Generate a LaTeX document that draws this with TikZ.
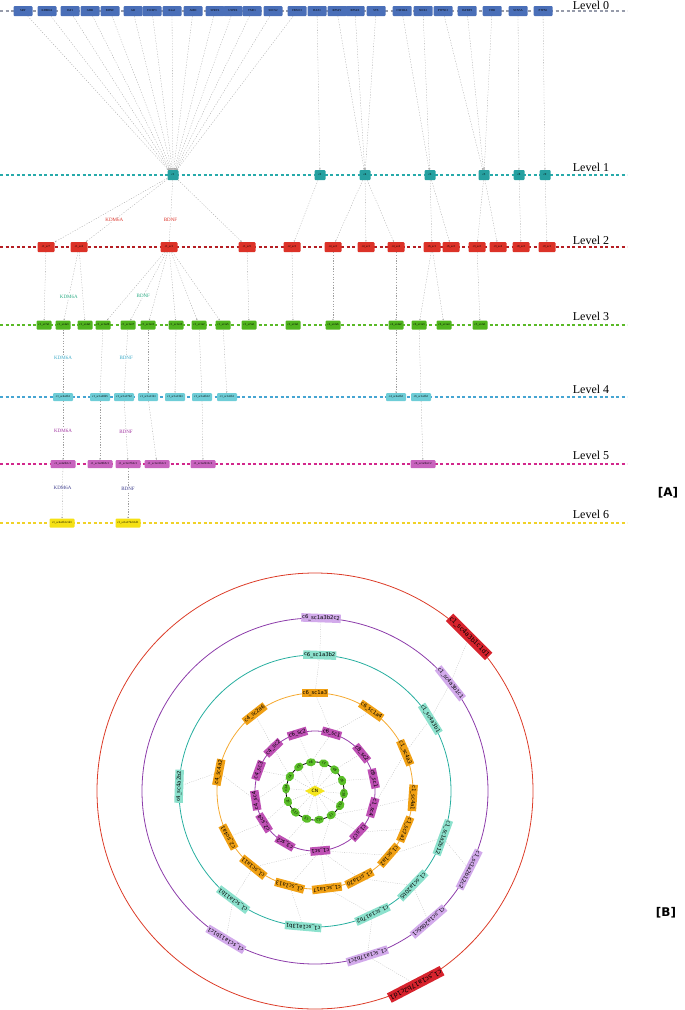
\documentclass[tikz,border=0pt]{standalone}
\usepackage{fontspec}
\setmainfont{Liberation Serif}
\newfontfamily\ringfont{DejaVu Sans}
\newfontfamily\tagfont{DejaVu Sans}
\usetikzlibrary{arrows.meta,shapes.geometric,backgrounds}

\definecolor{lv0}{RGB}{150,155,170}
\definecolor{lv1}{RGB}{40,170,170}
\definecolor{lv2}{RGB}{180,30,35}
\definecolor{lv3}{RGB}{90,185,40}
\definecolor{lv4}{RGB}{70,165,210}
\definecolor{lv5}{RGB}{210,40,140}
\definecolor{lv6}{RGB}{240,210,40}
\definecolor{genecol}{RGB}{74,111,184}
\definecolor{clucol}{RGB}{38,160,160}
\definecolor{subcol}{RGB}{220,50,40}
\definecolor{grncol}{RGB}{80,180,30}
\definecolor{cyacol}{RGB}{110,205,215}
\definecolor{pnkcol}{RGB}{200,100,190}
\definecolor{ylwcol}{RGB}{245,225,20}
\definecolor{tag2}{RGB}{220,50,40}
\definecolor{tag3}{RGB}{40,170,130}
\definecolor{tag4}{RGB}{60,170,200}
\definecolor{tag5}{RGB}{160,50,160}
\definecolor{tag6}{RGB}{60,60,140}
\definecolor{ringred}{RGB}{220,60,40}
\definecolor{ringpur}{RGB}{140,60,170}
\definecolor{ringtea}{RGB}{40,175,160}
\definecolor{ringora}{RGB}{245,170,50}
\definecolor{ringmag}{RGB}{150,60,170}
\definecolor{nodered}{RGB}{215,35,45}
\definecolor{nodelav}{RGB}{210,170,235}
\definecolor{nodetea}{RGB}{140,225,205}
\definecolor{nodeora}{RGB}{240,160,20}
\definecolor{nodemag}{RGB}{190,80,180}
\definecolor{nodegrn}{RGB}{90,190,40}
\definecolor{nodeylw}{RGB}{245,230,30}

\newcommand\lbl[1]{\expandafter\detokenize\expandafter{#1}}

\tikzset{
  lvline/.style={line width=1.1pt, dash pattern=on 3pt off 2.5pt},
  lvtext/.style={font=\fontsize{12}{12}\selectfont},
  tinybox/.style={rectangle, rounded corners=1pt, inner sep=0.6pt, font=\fontsize{3}{3}\selectfont, text=black, minimum height=9pt},
  genebox/.style={tinybox, fill=genecol, minimum width=19pt, minimum height=10pt},
  clubox/.style={tinybox, fill=clucol, minimum width=11pt, minimum height=10pt},
  subbox/.style={tinybox, fill=subcol, minimum width=17pt, minimum height=10pt},
  grnbox/.style={tinybox, fill=grncol, minimum width=15pt},
  cyabox/.style={tinybox, fill=cyacol, minimum width=20pt, minimum height=8pt},
  pnkbox/.style={tinybox, fill=pnkcol, minimum width=25pt, minimum height=8pt},
  ylwbox/.style={tinybox, fill=ylwcol, minimum width=25pt},
  tree/.style={draw=gray!75, line width=0.3pt, dash pattern=on 1.2pt off 1.5pt, -{Stealth[length=1.5pt,width=1.5pt]}},
  genetag/.style={font=\fontsize{5}{5}\selectfont, fill=white, inner sep=0.5pt},
  ringline/.style={line width=0.8pt},
  ringedge/.style={draw=gray!55, line width=0.3pt, dash pattern=on 1pt off 1.3pt},
  ringbox/.style={rectangle, inner sep=0.9pt, font=\ringfont\fontsize{5.3}{5.3}\selectfont, text=black, minimum height=8.5pt},
  magring/.style={ringbox, fill=nodemag},
  oraring/.style={ringbox, fill=nodeora},
  tearing/.style={ringbox, fill=nodetea},
  lavring/.style={ringbox, fill=nodelav},
  redring/.style={ringbox, fill=nodered, font=\ringfont\fontsize{6.4}{6.4}\selectfont, minimum height=10.5pt},
  grnring/.style={ellipse, fill=nodegrn, inner sep=0pt, minimum width=10pt, minimum height=8pt, font=\ringfont\fontsize{3.2}{3.2}\selectfont},
  cnbox/.style={diamond, aspect=2, fill=nodeylw, inner sep=0.3pt, minimum width=20pt, minimum height=11pt, font=\ringfont\fontsize{4.5}{4.5}\selectfont},
  panel/.style={font=\tagfont\bfseries\fontsize{12}{12}\selectfont}
}

\begin{document}
\begin{tikzpicture}[x=1pt,y=-1pt]
\useasboundingbox (0,0) rectangle (685,1010);

% level lines and titles
\foreach \y/\col in {11/lv0,175/lv1,247/lv2,325/lv3,397/lv4,464/lv5,523/lv6}
  \draw[lvline,draw=\col] (0,\y) -- (627,\y);
\foreach \k/\y in {0/5,1/167,2/240,3/316,4/389,5/455,6/514}
  \node[lvtext] (lev\k) at (591,\y) {Level \k};

% level 0 genes
\foreach \n/\x in {SRY/23,KDM6A/47,IGF1/70,GHR/90,BDNF/110,AR/133,FOXP3/152,Kiss1/172,AMH/193,SPRY4/215,USP9X/233,TMF1/252,SOCS2/273,FBXO3/297,DAZ1/317,RPS4Y/337,RPS4X/355,STS/376,CSF2RA/402,NOX2/423,PTPN13/443,IGFBP3/467,VDR/492,SCN5A/518,PTPN1/543}
  \node[genebox] (a-\n) at (\x,11) {\lbl{\n}};

% level 1 clusters
\foreach \n/\x in {c1/173,c2/320,c4/365,c6/430,c3/484,c8/519,c9/545}
  \node[clubox] (a-\n) at (\x,175) {\lbl{\n}};
\foreach \p/\c in {SRY/c1,KDM6A/c1,IGF1/c1,GHR/c1,BDNF/c1,AR/c1,FOXP3/c1,Kiss1/c1,AMH/c1,SPRY4/c1,USP9X/c1,TMF1/c1,SOCS2/c1,FBXO3/c1,DAZ1/c2,RPS4Y/c4,RPS4X/c4,STS/c4,CSF2RA/c6,NOX2/c6,PTPN13/c3,IGFBP3/c3,VDR/c3,SCN5A/c8,PTPN1/c9}
  \draw[tree] (a-\p) -- (a-\c);

% level 2
\foreach \n/\x in {c1_sc7/46,c1_sc4/79,c1_sc1/169,c1_sc5/247,c2_sc3/292,c4_sc2/333,c4_sc1/366,c4_sc4/396,c6_sc1/432,c6_sc2/451,c3_sc2/477,c3_sc4/498,c8_sc2/521,c9_sc1/547}
  \node[subbox] (a-\n) at (\x,247) {\lbl{\n}};
\foreach \p/\c in {c1/c1_sc7,c1/c1_sc5,c2/c2_sc3,c4/c4_sc2,c4/c4_sc1,c4/c4_sc4,c6/c6_sc1,c6/c6_sc2,c3/c3_sc2,c3/c3_sc4,c8/c8_sc2,c9/c9_sc1}
  \draw[tree] (a-\p) -- (a-\c);
\draw[tree] (a-c1) -- node[genetag,text=tag2,pos=0.65] (k2) {KDM6A} (a-c1_sc4);
\draw[tree] (a-c1) -- node[genetag,text=tag2,pos=0.65] (b2) {BDNF} (a-c1_sc1);

% level 3
\foreach \n/\x in {c1_sc7a1/44,c1_sc4a3/63,c1_sc4a1/85,c1_sc1a20/103,c1_sc1a17/128,c1_sc1a11/148,c1_sc1a13/176,c1_sc1a2/199,c1_sc1a5/223,c1_sc5a1/249,c2_sc3a1/293,c4_sc2a6/333,c4_sc4a2/396,c6_sc1a3/419,c6_sc1a4/444,c3_sc2a1/480}
  \node[grnbox] (a-\n) at (\x,325) {\lbl{\n}};
\foreach \p/\c in {c1_sc7/c1_sc7a1,c1_sc4/c1_sc4a1,c1_sc1/c1_sc1a20,c1_sc1/c1_sc1a11,c1_sc1/c1_sc1a13,c1_sc1/c1_sc1a2,c1_sc1/c1_sc1a5,c1_sc5/c1_sc5a1,c2_sc3/c2_sc3a1,c4_sc2/c4_sc2a6,c4_sc4/c4_sc4a2,c6_sc1/c6_sc1a3,c6_sc1/c6_sc1a4,c3_sc2/c3_sc2a1}
  \draw[tree] (a-\p) -- (a-\c);
\draw[tree] (a-c1_sc4) -- node[genetag,text=tag3,pos=0.65] (k3) {KDM6A} (a-c1_sc4a3);
\draw[tree] (a-c1_sc1) -- node[genetag,text=tag3,pos=0.64] (b3) {BDNF} (a-c1_sc1a17);

% level 4
\foreach \n/\x in {c1_sc4a3b1/63,c1_sc1a20b5/100,c1_sc1a17b2/124,c1_sc1a11b1/148,c1_sc1a13b1/175,c1_sc1a2b12/202,c1_sc1a5b1/227,c4_sc4a2b2/396,c6_sc1a3b2/421}
  \node[cyabox] (a-\n) at (\x,397) {\lbl{\n}};
\foreach \p/\c in {c1_sc1a20/c1_sc1a20b5,c1_sc1a11/c1_sc1a11b1,c1_sc1a13/c1_sc1a13b1,c1_sc1a2/c1_sc1a2b12,c1_sc1a5/c1_sc1a5b1,c4_sc4a2/c4_sc4a2b2,c6_sc1a3/c6_sc1a3b2}
  \draw[tree] (a-\p) -- (a-\c);
\draw[tree] (a-c1_sc4a3) -- node[genetag,text=tag4,pos=0.44] (k4) {KDM6A} (a-c1_sc4a3b1);
\draw[tree] (a-c1_sc1a17) -- node[genetag,text=tag4,pos=0.44] (b4) {BDNF} (a-c1_sc1a17b2);

% level 5
\foreach \n/\x in {c1_sc4a3b1c1/63,c1_sc1a20b5c1/100,c1_sc1a17b2c1/128,c1_sc1a11b1c1/157,c1_sc1a2b12c2/203,c6_sc1a3b2c2/423}
  \node[pnkbox] (a-\n) at (\x,464) {\lbl{\n}};
\foreach \p/\c in {c1_sc1a20b5/c1_sc1a20b5c1,c1_sc1a11b1/c1_sc1a11b1c1,c1_sc1a2b12/c1_sc1a2b12c2,c6_sc1a3b2/c6_sc1a3b2c2}
  \draw[tree] (a-\p) -- (a-\c);
\draw[tree] (a-c1_sc4a3b1) -- node[genetag,text=tag5,pos=0.5] (k5) {KDM6A} (a-c1_sc4a3b1c1);
\draw[tree] (a-c1_sc1a17b2) -- node[genetag,text=tag5,pos=0.52] (b5) {BDNF} (a-c1_sc1a17b2c1);

% level 6
\foreach \n/\x in {c1_sc4a3b1c1d1/62,c1_sc1a17b2c1d1/128}
  \node[ylwbox] (a-\n) at (\x,523) {\lbl{\n}};
\draw[tree] (a-c1_sc4a3b1c1) -- node[genetag,text=tag6,pos=0.39] (k6) {KDM6A} (a-c1_sc4a3b1c1d1);
\draw[tree] (a-c1_sc1a17b2c1) -- node[genetag,text=tag6,pos=0.42] (b6) {BDNF} (a-c1_sc1a17b2c1d1);

\node[panel] (pa) at (668,493) {[A]};
\node[panel] (pb) at (666,913) {[B]};

% ring view
\begin{scope}[shift={(315,791)},y=1pt]
\node[cnbox] (b-CN) at (0,0) {CN};
\foreach \n/\a in {c6/98,c7/72,c8/47,c9/21,c10/355,c11/330,c1/304,c12/278,c3/253,c13/227,c2/201,c14/175,c4/150,c5/124}
  \node[grnring,rotate=\a-90] (b-\n) at (\a:29) {\lbl{\n}};
\foreach \n/\a in {c6_sc1/74,c6_sc2/107,c4_sc2/134,c4_sc3/160,c4_sc4/189,c2_sc4/212,c3_sc2/240,c1_sc1/275,c1_sc7/317,c1_sc4/344,c9_sc1/12,c8_sc2/39}
  \node[magring,rotate=\a-90] (b-\n) at (\a:60) {\lbl{\n}};
\foreach \n/\a in {c6_sc1a3/90,c6_sc1a4/55,c1_sc4a3/23,c1_sc4a1/356,c1_sc7a1/337,c1_sc1a2/319,c1_sc1a20/297,c1_sc1a17/277,c1_sc1a13/255,c1_sc1a11/231,c2_sc4a1/208,c4_sc4a2/169,c4_sc2a6/128}
  \node[oraring,rotate=\a-90] (b-\n) at (\a:98) {\lbl{\n}};
\foreach \n/\a in {c6_sc1a3b2/88,c1_sc4a3b1/32,c1_sc1a2b12/340,c1_sc1a20b5/316,c1_sc1a17b2/295,c1_sc1a13b1/265,c1_sc1a11b1/233,c4_sc4a2b2/178}
  \node[tearing,rotate=\a-90] (b-\n) at (\a:136) {\lbl{\n}};
\foreach \n/\a in {c6_sc1a3b2c2/88,c1_sc4a3b1c1/38.5,c1_sc1a2b12c2/333,c1_sc1a20b5c1/311,c1_sc1a17b2c1/287.6,c1_sc1a11b1c1/239}
  \node[lavring,rotate=\a-90] (b-\n) at (\a:173) {\lbl{\n}};
\foreach \n/\a in {c1_sc4a3b1c1d1/45,c1_sc1a17b2c1d1/297.5}
  \node[redring,rotate=\a-90] (b-\n) at (\a:218) {\lbl{\n}};

\begin{pgfonlayer}{background}
\draw[ringline,draw=ringred] (0,0) circle (218);
\draw[ringline,draw=ringpur] (0,0) circle (173);
\draw[ringline,draw=ringtea] (0,0) circle (136);
\draw[ringline,draw=ringora] (0,0) circle (98);
\draw[ringline,draw=ringmag] (0,0) circle (60);
\draw[ringline,draw=black] (0,0) circle (29);
\foreach \c in {c1,c2,c3,c4,c5,c6,c7,c8,c9,c10,c11,c12,c13,c14}
  \draw[ringedge] (b-CN) -- (b-\c);
\foreach \p/\c in {c6/c6_sc1,c6/c6_sc2,c4/c4_sc2,c4/c4_sc3,c4/c4_sc4,c2/c2_sc4,c3/c3_sc2,c1/c1_sc1,c1/c1_sc7,c1/c1_sc4,c9/c9_sc1,c8/c8_sc2,%
  c6_sc1/c6_sc1a3,c6_sc1/c6_sc1a4,c1_sc4/c1_sc4a3,c1_sc4/c1_sc4a1,c1_sc7/c1_sc7a1,c1_sc1/c1_sc1a2,c1_sc1/c1_sc1a20,c1_sc1/c1_sc1a17,c1_sc1/c1_sc1a13,c1_sc1/c1_sc1a11,c2_sc4/c2_sc4a1,c4_sc4/c4_sc4a2,c4_sc2/c4_sc2a6,%
  c6_sc1a3/c6_sc1a3b2,c1_sc4a3/c1_sc4a3b1,c1_sc1a2/c1_sc1a2b12,c1_sc1a20/c1_sc1a20b5,c1_sc1a17/c1_sc1a17b2,c1_sc1a13/c1_sc1a13b1,c1_sc1a11/c1_sc1a11b1,c4_sc4a2/c4_sc4a2b2,%
  c6_sc1a3b2/c6_sc1a3b2c2,c1_sc4a3b1/c1_sc4a3b1c1,c1_sc1a2b12/c1_sc1a2b12c2,c1_sc1a20b5/c1_sc1a20b5c1,c1_sc1a17b2/c1_sc1a17b2c1,c1_sc1a11b1/c1_sc1a11b1c1,%
  c1_sc4a3b1c1/c1_sc4a3b1c1d1,c1_sc1a17b2c1/c1_sc1a17b2c1d1}
  \draw[ringedge] (b-\p) -- (b-\c);
\end{pgfonlayer}
\end{scope}
\end{tikzpicture}
\end{document}
